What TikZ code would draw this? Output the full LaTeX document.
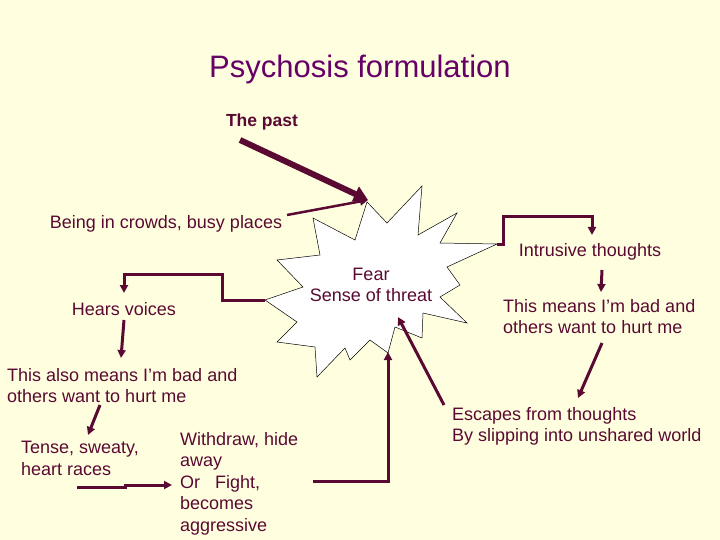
\documentclass[tikz,border=0pt]{standalone}
\usepackage{fontspec}
\setmainfont{Liberation Sans}
\usetikzlibrary{arrows.meta}
\definecolor{bg}{HTML}{FFFFE0}
\definecolor{ink}{HTML}{5A0A32}
\definecolor{tt}{HTML}{660066}
\begin{document}
\begin{tikzpicture}[x=1pt,y=-1pt,
  lbl/.style={text=ink,font=\fontsize{18}{21.5}\selectfont,inner sep=0pt},
  lb/.style={lbl,align=left,anchor=north west},
  arr/.style={draw=ink,line width=3pt,-{Triangle[length=8pt,width=8pt]}},
  fat/.style={draw=ink,line width=6pt,-{Triangle[length=14pt,width=16pt]}}]
\fill[bg] (0,0) rectangle (720,540);
\draw[fill=white,draw=black,line width=0.5pt]
 (422,186)--(418,235)--(457,213)--(440,243)--(497,244)--(447,267)--(460,285)--(440,297)--(467,323)--(423,313)--(422,338)--(395,327)--(388,353)--(370,340)--(350,360)--(345,348)--(317,377)--(315,347)--(277,342)--(297,322)--(265,300)--(303,287)--(277,260)--(320,255)--(313,218)--(355,240)--(367,202)--(387,223)--cycle;
\coordinate (starR) at (497,244);
\coordinate (starL) at (265,300);
\node[text=tt,font=\fontsize{31}{36}\selectfont,inner sep=0pt] (title) at (360,69) {Psychosis formulation};
\node[lbl,font=\bfseries\fontsize{17.5}{21.5}\selectfont] (past) at (262,122) {The past};
\node[lbl] (crowd) at (166,224) {Being in crowds, busy places};
\node[lbl] (intr) at (590,252) {Intrusive thoughts};
\node[lbl,align=center] (fear) at (371,285) {Fear\\Sense of threat};
\node[lbl] (voices) at (124,309) {Hears voices};
\node[lb] (means) at (503,299) {This means I’m bad and\\others want to hurt me};
\node[lb] (also) at (7,368) {This also means I’m bad and\\others want to hurt me};
\node[lb] (tense) at (21,441) {Tense, sweaty,\\heart races};
\node[lb] (withdraw) at (180,432) {Withdraw, hide\\away\\Or\ \ \ Fight,\\becomes\\aggressive};
\node[lb] (escape) at (452,407) {Escapes from thoughts\\By slipping into unshared world};
\coordinate (pastS) at (240,140);
\coordinate (pastE) at (368,200);
\draw[fat] (pastS) -- (pastE);
\coordinate (crS) at (287,215);
\draw[arr,line width=2.5pt] (crS) -- (pastE);
\draw[arr] (starR) -- (503,244) -- (503,217) -- (592,217) -- (592,235);
\draw[arr] (starL) -- (222,300) -- (222,274) -- (124,274) -- (124,293);
\draw[arr] (124,320) -- (121,358);
\draw[arr] (100,405) -- (88,435);
\draw[arr] (77,487) -- (125,487) -- (125,485) -- (172,485);
\draw[arr] (313,481) -- (388,481) -- (388,352);
\draw[arr] (444,405) -- (398,317);
\draw[arr] (602,270) -- (601,292);
\draw[arr] (602,343) -- (578,398);
\end{tikzpicture}
\end{document}
